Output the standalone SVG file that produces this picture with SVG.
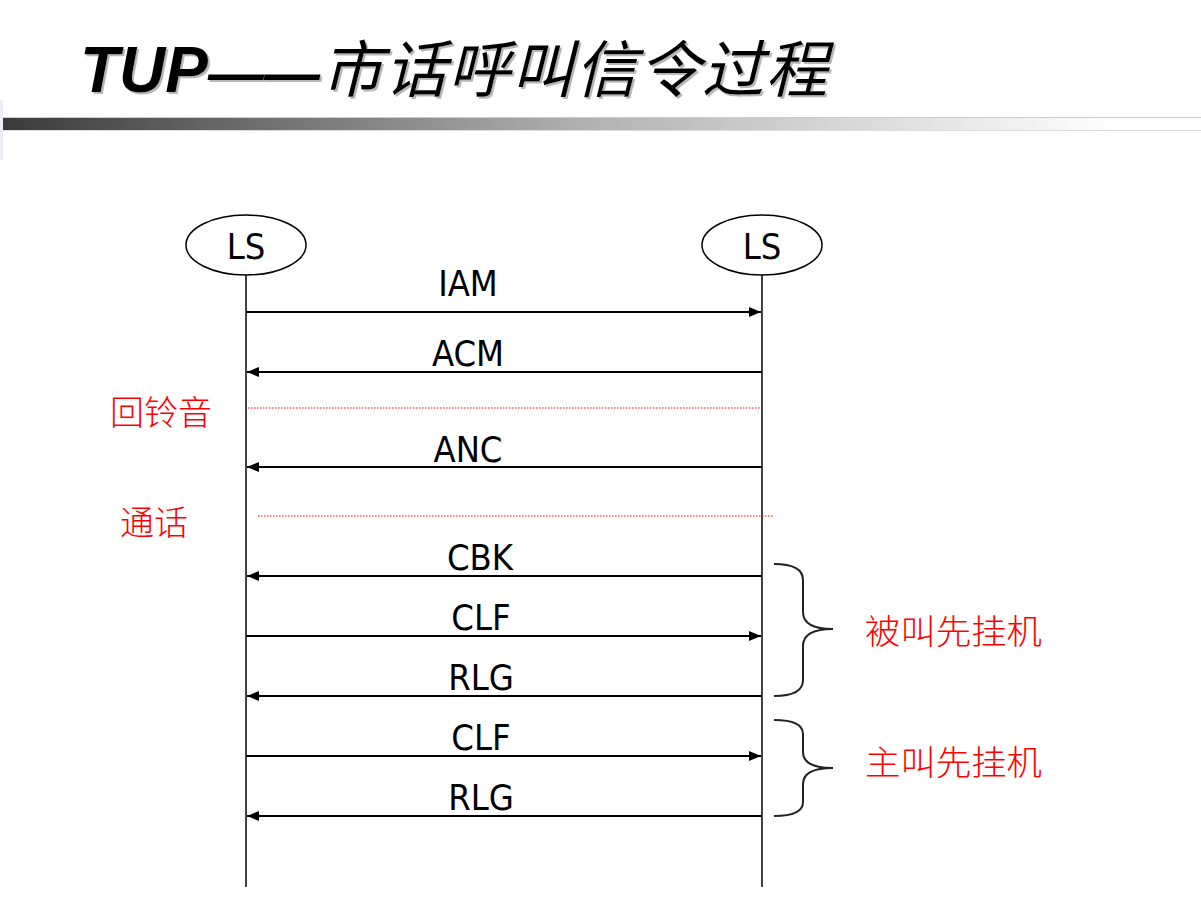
<svg xmlns="http://www.w3.org/2000/svg" width="1201" height="919" viewBox="0 0 1201 919">
<defs>
<linearGradient id="bar" x1="0" y1="0" x2="1" y2="0">
<stop offset="0" stop-color="#3a3a3a"/>
<stop offset="0.5" stop-color="#b4b4b4"/>
<stop offset="0.93" stop-color="#ffffff"/>
</linearGradient>
<filter id="shadow" x="-5%" y="-20%" width="110%" height="140%">
<feDropShadow dx="2" dy="2" stdDeviation="0.5" flood-color="#999" flood-opacity="0.7"/>
</filter>
<marker id="ah" viewBox="0 0 12 10" refX="12" refY="5" markerWidth="12" markerHeight="10" markerUnits="userSpaceOnUse" orient="auto">
<path d="M0,0 L12,5 L0,10 Z" fill="#000"/>
</marker>
<style>
.life{stroke:#444;stroke-width:2;fill:none}
.msg{stroke:#000;stroke-width:2;fill:none;marker-end:url(#ah)}
.dot{stroke:#ff0000;stroke-width:1;stroke-dasharray:1.5,1.5;fill:none}
.brace{stroke:#222;stroke-width:2;fill:none}
.lbl{font-family:"DejaVu Sans Condensed","DejaVu Sans",sans-serif;font-size:36px;fill:#000;text-anchor:middle}
.red{font-family:"Noto Sans CJK SC",sans-serif;font-size:34px;fill:#ff0000;font-weight:300}
.node{fill:#fff;stroke:#000;stroke-width:1.5}
</style>
</defs>
<rect width="1201" height="919" fill="#fff"/>
<!-- title -->
<g id="title" fill="#000" filter="url(#shadow)">
<text x="80" y="92" font-family="Liberation Sans, sans-serif" font-size="64" font-weight="bold" font-style="italic"><tspan>TUP</tspan><tspan x="208" font-size="56">——</tspan><tspan x="321" font-family="Noto Sans CJK SC, sans-serif" font-size="62" font-weight="normal" letter-spacing="1.5">市话呼叫信令过程</tspan></text>
</g>
<rect x="0" y="117" width="1201" height="1" fill="#ccc"/>
<rect x="0" y="118" width="1201" height="12" fill="url(#bar)"/>
<rect x="0" y="130" width="1201" height="1" fill="#ddd"/>
<rect x="0" y="100" width="3" height="60" fill="#eeeefa"/>
<!-- nodes -->
<g id="ls-left">
<line class="life" x1="246" y1="275" x2="246" y2="887"/>
<ellipse class="node" cx="246" cy="245" rx="60" ry="30"/>
<text class="lbl" x="246" y="259">LS</text>
</g>
<g id="ls-right">
<line class="life" x1="762" y1="275" x2="762" y2="887"/>
<ellipse class="node" cx="762" cy="245" rx="60" ry="30"/>
<text class="lbl" x="762" y="259">LS</text>
</g>
<!-- connectors -->
<g id="connectors">
<line class="msg" x1="246" y1="312" x2="761" y2="312"/>
<line class="msg" x1="762" y1="372" x2="247" y2="372"/>
<line class="dot" x1="248" y1="408" x2="760" y2="408"/>
<line class="msg" x1="762" y1="467" x2="247" y2="467"/>
<line class="dot" x1="258" y1="516" x2="774" y2="516"/>
<line class="msg" x1="762" y1="576" x2="247" y2="576"/>
<line class="msg" x1="246" y1="636" x2="761" y2="636"/>
<line class="msg" x1="762" y1="696" x2="247" y2="696"/>
<line class="msg" x1="246" y1="756" x2="761" y2="756"/>
<line class="msg" x1="762" y1="816" x2="247" y2="816"/>
<path class="brace" d="M774,564 Q803,564 803,580 L803,612 Q803,629 833,629 Q803,629 803,646 L803,680 Q803,696 774,696"/>
<path class="brace" d="M774,720 Q803,720 803,734 L803,752 Q803,768 833,768 Q803,768 803,784 L803,802 Q803,816 774,816"/>
</g>
<!-- labels -->
<g id="labels">
<text class="lbl" x="468" y="296">IAM</text>
<text class="lbl" x="468" y="366">ACM</text>
<text class="lbl" x="468" y="462">ANC</text>
<text class="lbl" x="480" y="570">CBK</text>
<text class="lbl" x="481" y="630">CLF</text>
<text class="lbl" x="481" y="690">RLG</text>
<text class="lbl" x="481" y="750">CLF</text>
<text class="lbl" x="481" y="810">RLG</text>
<text class="red" x="110" y="425">回铃音</text>
<text class="red" x="120" y="535">通话</text>
<text class="red" x="865" y="644" textLength="177" lengthAdjust="spacingAndGlyphs">被叫先挂机</text>
<text class="red" x="865" y="775" textLength="177" lengthAdjust="spacingAndGlyphs">主叫先挂机</text>
</g>
</svg>
